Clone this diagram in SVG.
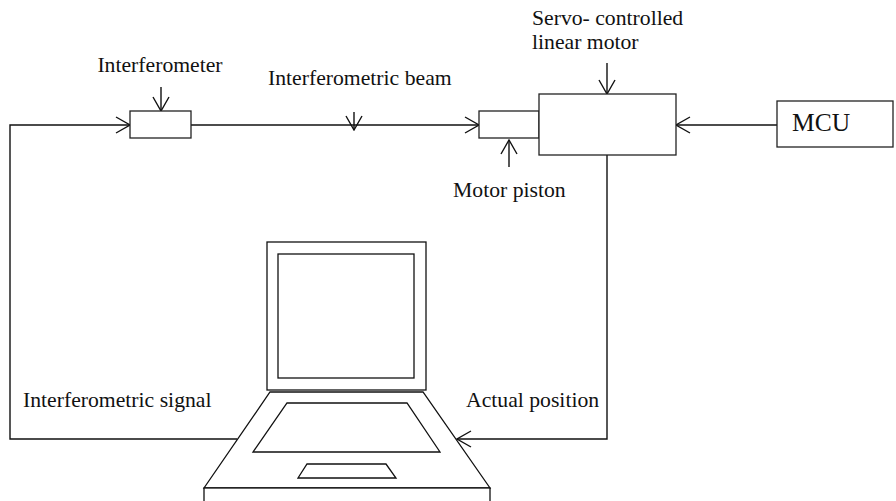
<svg xmlns="http://www.w3.org/2000/svg" width="896" height="501" viewBox="0 0 896 501">
  <style>
    .box { fill: #fff; stroke: #222; stroke-width: 1.3; }
    .ln { fill: none; stroke: #111; stroke-width: 1.4; }
    .lbl { font-family: "Liberation Serif", "Times New Roman", serif; font-size: 21.7px; fill: #111; }
    .lap { fill: #fff; stroke: #111; stroke-width: 1.3; stroke-linejoin: miter; }
  </style>
  <defs>
    <marker id="open" viewBox="0 0 16 18" refX="15" refY="9" markerWidth="16" markerHeight="18" markerUnits="userSpaceOnUse" orient="auto">
      <path d="M1,1 L15,9 L1,17" fill="none" stroke="#111" stroke-width="1.4"/>
    </marker>
  </defs>

  <rect width="896" height="501" fill="#fff"/>

  <!-- signal and beam connectors -->
  <g id="connectors">
    <path class="ln" d="M237,439 H10 V125 H130" marker-end="url(#open)"/>
    <path class="ln" d="M191,125 H479" marker-end="url(#open)"/>
    <path class="ln" d="M777,125 H676" marker-end="url(#open)"/>
    <path class="ln" d="M607,155 V439 H457" marker-end="url(#open)"/>
    <!-- pointer arrows for labels -->
    <path class="ln" d="M161,87 V111" marker-end="url(#open)"/>
    <path class="ln" d="M354,112 V130" marker-end="url(#open)"/>
    <path class="ln" d="M509,167 V140" marker-end="url(#open)"/>
    <path class="ln" d="M607,63 V94" marker-end="url(#open)"/>
  </g>

  <g id="interferometer">
    <rect class="box" x="130" y="111" width="61" height="27"/>
    <text class="lbl" x="160" y="72" text-anchor="middle">Interferometer</text>
  </g>

  <g id="beam-label">
    <text class="lbl" x="268" y="85">Interferometric beam</text>
  </g>

  <g id="motor-piston">
    <rect class="box" x="479" y="111" width="60" height="27"/>
    <text class="lbl" x="453" y="197">Motor piston</text>
  </g>

  <g id="linear-motor">
    <rect class="box" x="539" y="94" width="137" height="61"/>
    <text class="lbl" x="532" y="25">Servo- controlled</text>
    <text class="lbl" x="532" y="49">linear motor</text>
  </g>

  <g id="mcu">
    <rect class="box" x="777" y="101" width="116" height="46"/>
    <text class="lbl" x="792" y="131" style="font-size:25.5px">MCU</text>
  </g>

  <g id="signal-label">
    <text class="lbl" x="23" y="407">Interferometric signal</text>
  </g>

  <g id="position-label">
    <text class="lbl" x="466" y="407">Actual position</text>
  </g>

  <g id="computer">
    <!-- screen -->
    <rect class="lap" x="267" y="242" width="159" height="148"/>
    <rect class="lap" x="278" y="254" width="136" height="124"/>
    <!-- base deck -->
    <polygon class="lap" points="270,392 423,392 490,488 204,488"/>
    <!-- keyboard -->
    <polygon class="lap" points="287,403 407,403 440,452 253,452"/>
    <!-- touchpad -->
    <polygon class="lap" points="307,464 386,464 396,478 298,478"/>
    <!-- front edge -->
    <rect class="lap" x="204" y="488" width="286" height="20"/>
  </g>
</svg>
